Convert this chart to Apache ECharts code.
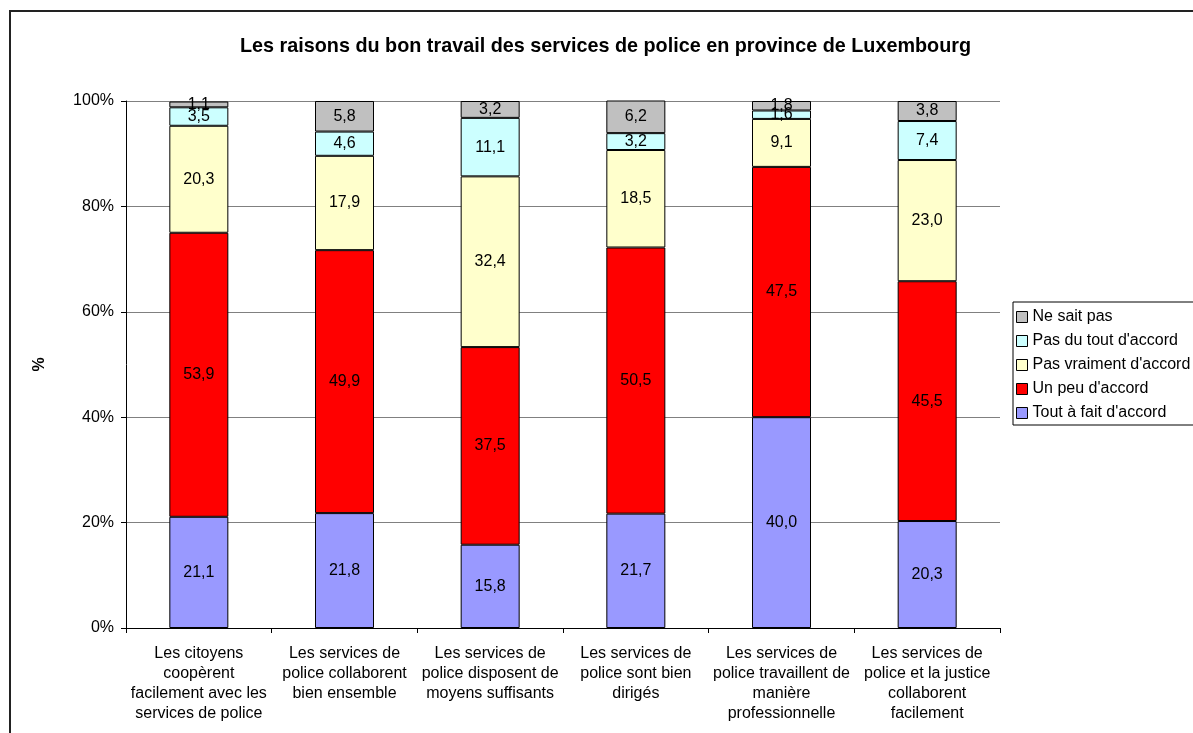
<!DOCTYPE html>
<html>
<head>
<meta charset="utf-8">
<script src="https://cdn.jsdelivr.net/npm/echarts@6/dist/echarts.min.js"></script>
<style>
  html, body { margin: 0; padding: 0; background: #fff; }
  #chart { width: 1193px; height: 733px; }
</style>
</head>
<body>
<div id="chart"></div>
<script>
var categories = [
	"Les citoyens\ncoopèrent\nfacilement avec les\nservices de police",
	"Les services de\npolice collaborent\nbien ensemble",
	"Les services de\npolice disposent de\nmoyens suffisants",
	"Les services de\npolice sont bien\ndirigés",
	"Les services de\npolice travaillent de\nmanière\nprofessionnelle",
	"Les services de\npolice et la justice\ncollaborent\nfacilement"
];
var toutAFait = [21.1, 21.8, 15.8, 21.7, 40.0, 20.3];
var unPeu = [53.9, 49.9, 37.5, 50.5, 47.5, 45.5];
var pasVraiment = [20.3, 17.9, 32.4, 18.5, 9.1, 23.0];
var pasDuTout = [3.5, 4.6, 11.1, 3.2, 1.6, 7.4];
var neSaitPas = [1.1, 5.8, 3.2, 6.2, 1.8, 3.8];

var seriesNames = ["Tout à fait d'accord", "Un peu d'accord", "Pas vraiment d'accord", "Pas du tout d'accord", "Ne sait pas"];
var seriesData = [toutAFait, unPeu, pasVraiment, pasDuTout, neSaitPas];
var colors = ["#9999FF", "#FF0000", "#FFFFCC", "#CCFFFF", "#C0C0C0"];

var font = "Liberation Sans, Arial, sans-serif";

var myChart = echarts.init(document.getElementById("chart"));

var series = [];
for (var i = 0; i < seriesNames.length; i++) {
	series.push({
		name: seriesNames[i],
		type: 'bar',
		stack: 'total',
		barWidth: 59,
		data: seriesData[i],
		itemStyle: { color: colors[i], borderColor: '#000', borderWidth: 1 },
		label: {
			show: true,
			position: 'inside',
			color: '#000',
			fontSize: 16,
			fontFamily: font,
			formatter: function (p) { return p.value.toFixed(1).replace('.', ','); }
		},
		emphasis: { disabled: true }
	});
}

var option = {
	animation: false,
	color: colors,
	title: {
		text: "Les raisons du bon travail des services de police en province de Luxembourg",
		left: 235,
		top: 32,
		textStyle: { fontSize: 19.8, fontWeight: 'bold', color: '#000', fontFamily: font }
	},
	legend: {
		orient: 'vertical',
		left: 1013,
		top: 302,
		data: seriesNames.slice().reverse(),
		itemWidth: 11,
		itemHeight: 11,
		itemGap: 6,
		icon: 'rect',
		padding: [6, 10, 3, 3],
		borderColor: '#000',
		borderWidth: 1,
		itemStyle: { borderColor: '#000', borderWidth: 1 },
		textStyle: { fontSize: 16, lineHeight: 18, color: '#000', fontFamily: font }
	},
	grid: {
		left: 126,
		right: 193,
		top: 101,
		bottom: 105,
		containLabel: false
	},
	xAxis: {
		type: 'category',
		data: categories,
		axisLine: { lineStyle: { color: '#000', width: 1 } },
		axisTick: { show: true, interval: 0, length: 5, lineStyle: { color: '#000' } },
		axisLabel: {
			interval: 0,
			color: '#000',
			fontSize: 16,
			fontFamily: font,
			lineHeight: 20,
			margin: 16
		}
	},
	yAxis: {
		type: 'value',
		min: 0,
		max: 100,
		interval: 20,
		name: '%',
		nameLocation: 'middle',
		nameGap: 78,
		nameRotate: 90,
		nameTextStyle: { fontSize: 16, fontWeight: 'bold', color: '#000', fontFamily: font },
		axisLine: { show: true, lineStyle: { color: '#000', width: 1 } },
		axisTick: { show: true, length: 5, lineStyle: { color: '#000' } },
		axisLabel: {
			color: '#000',
			fontSize: 16,
			fontFamily: font,
			margin: 12,
			formatter: '{value}%'
		},
		splitLine: { show: true, lineStyle: { color: '#808080', width: 1 } }
	},
	graphic: [{
		type: 'rect',
		shape: { x: 10, y: 11, width: 1300, height: 900 },
		style: { fill: 'none', stroke: '#222', lineWidth: 2 },
		silent: true
	}],
	series: series
};

myChart.setOption(option);
</script>
</body>
</html>
